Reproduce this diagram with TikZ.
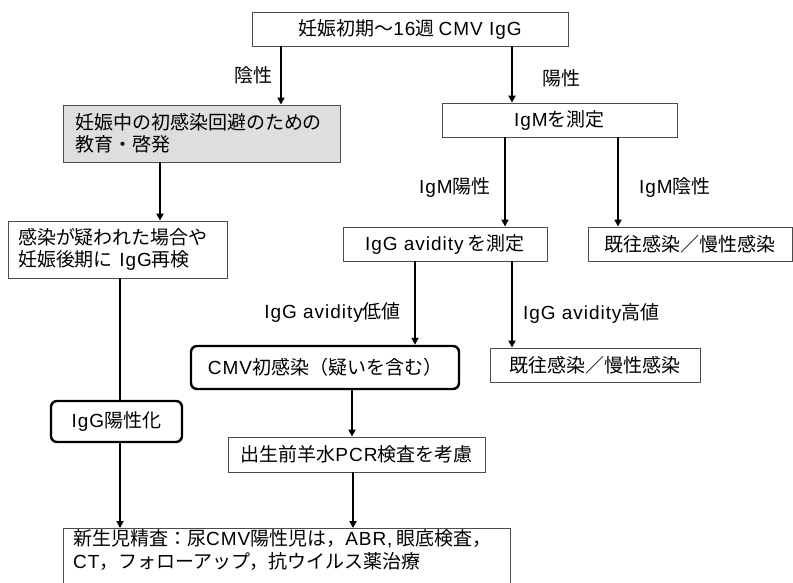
\documentclass[tikz,border=0pt]{standalone}
\usepackage{fontspec}
\setmainfont{Noto Sans CJK JP}
\newfontfamily\latfont[LetterSpace=5]{Liberation Sans}
\newcommand\latn[1]{{\latfont #1}}
\usetikzlibrary{arrows.meta}
\begin{document}
\begin{tikzpicture}[x=1pt,y=-1pt,
  every node/.style={font=\fontsize{19}{22}\selectfont, inner sep=0pt},
  box/.style={draw=black!70, line width=0.9pt, minimum width=#1},
  gbox/.style={box=#1, fill=black!13},
  rbox/.style={draw=black, line width=2.4pt, rounded corners=6pt, minimum width=#1},
  arr/.style={line width=2.4pt, -{Triangle[length=7pt,width=7pt]}},
  tarr/.style={line width=1.6pt, -{Triangle[length=7pt,width=7pt]}},
  lbl/.style={font=\fontsize{19}{20}\selectfont}]
\useasboundingbox (0,0) rectangle (793,583);
\clip (0,0) rectangle (793,583);
% nodes
\node[box=316pt, minimum height=34pt] (top) at (410,29) {妊娠初期～\latn{16}週 \latn{CMV IgG}};
\node[gbox=277pt, minimum height=57pt, align=left, text width=253pt] (edu) at (201.5,133.5) {妊娠中の初感染回避のための\\教育・啓発};
\node[box=219pt, minimum height=57pt, align=left, text width=199pt] (susp) at (117.5,249.5) {感染が疑われた場合や\\妊娠後期に \latn{IgG}再検};
\node[box=235pt, minimum height=34pt] (igm) at (559.5,120) {\latn{IgM}を測定};
\node[box=204pt, minimum height=34pt] (avid) at (445,244) {\latn{IgG avidity} を測定};
\node[box=204pt, minimum height=34pt] (past1) at (690,244) {既往感染／慢性感染};
\node[box=210pt, minimum height=34pt] (past2) at (595,365) {既往感染／慢性感染};
\node[rbox=268pt, minimum height=43pt] (cmv) at (325,367.5) {\latn{CMV}初感染（疑いを含む）};
\node[rbox=131pt, minimum height=41pt] (pos) at (116.5,421.5) {\latn{IgG}陽性化};
\node[box=257pt, minimum height=35pt] (pcr) at (356.5,454.5) {出生前羊水\latn{PCR}検査を考慮};
\node[box=447pt, minimum height=80pt, anchor=north west] (nb) at (63,528) {};
\node[anchor=north west, align=left, font=\fontsize{19}{23}\selectfont] (nbt) at (73,529) {新生児精査：尿\latn{CMV}陽性児は，\latn{ABR,} 眼底検査，\\\latn{CT}，フォローアップ，抗ウイルス薬治療};
% x positions of connectors
\coordinate (x1) at (281,0);
\coordinate (x2) at (512,0);
\coordinate (x3) at (160,0);
\coordinate (x4) at (120,0);
\coordinate (x5) at (505,0);
\coordinate (x6) at (618,0);
\coordinate (x7) at (415,0);
\coordinate (x8) at (512,0);
\coordinate (x9) at (352,0);
\coordinate (x10) at (353,0);
% connectors
\draw[arr] (top.south -| x1) -- (edu.north -| x1);
\draw[arr] (top.south -| x2) -- (igm.north -| x2);
\draw[arr] (edu.south -| x3) -- (susp.north -| x3);
\draw[line width=1.3pt] (susp.south -| x4) -- (pos.north -| x4);
\draw[tarr] (pos.south -| x4) -- (nb.north -| x4);
\draw[arr] (igm.south -| x5) -- (avid.north -| x5);
\draw[arr] (igm.south -| x6) -- (past1.north -| x6);
\draw[arr] (avid.south -| x7) -- (cmv.north -| x7);
\draw[arr] (avid.south -| x8) -- (past2.north -| x8);
\draw[tarr] (cmv.south -| x9) -- (pcr.north -| x9);
\draw[arr] (pcr.south -| x10) -- (nb.north -| x10);
% labels
\node[lbl] (l1) at (253,75) {陰性};
\node[lbl] (l2) at (561,78) {陽性};
\node[lbl] (l3) at (455,187) {\latn{IgM}陽性};
\node[lbl] (l4) at (675,187) {\latn{IgM}陰性};
\node[lbl, anchor=east] (l5) at (401,312) {\latn{IgG avidity}低値};
\node[lbl, anchor=west] (l6) at (523,313) {\latn{IgG avidity}高値};
\end{tikzpicture}
\end{document}
